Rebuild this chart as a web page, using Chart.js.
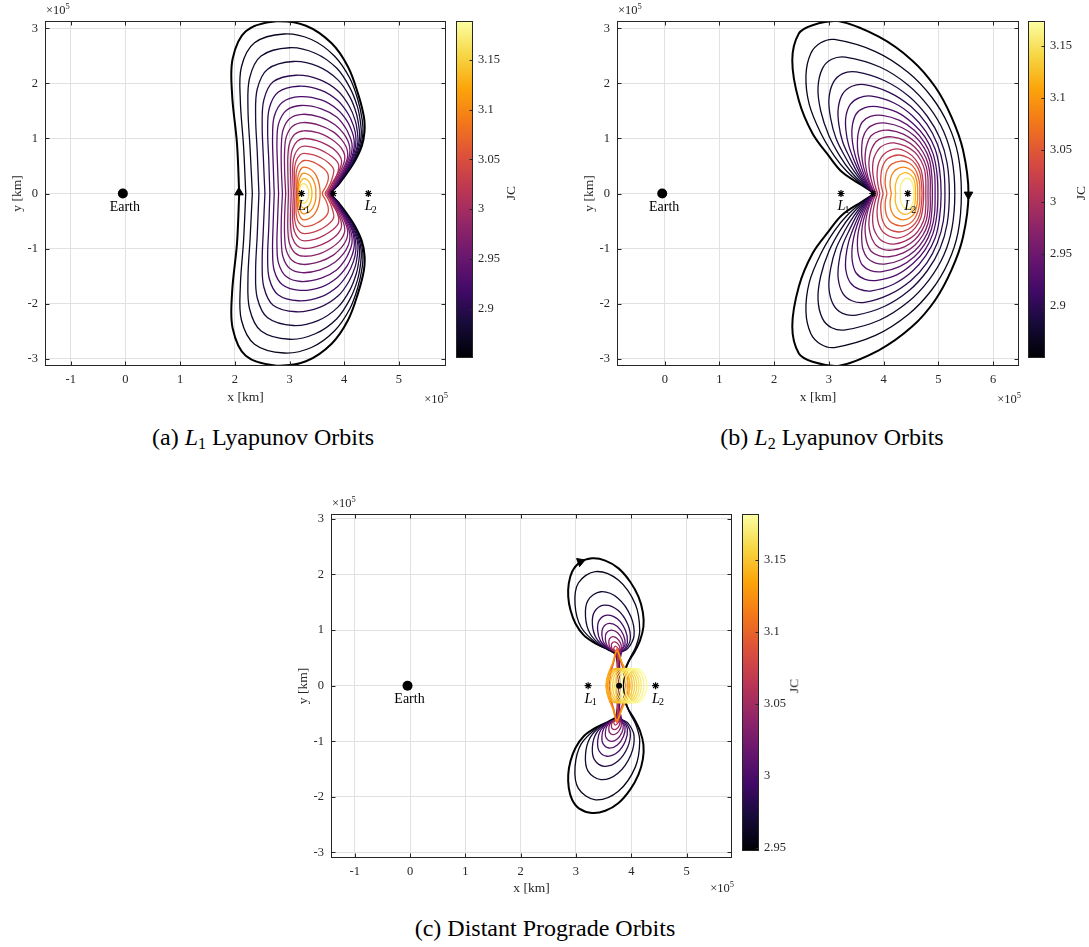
<!DOCTYPE html>
<html>
<head>
<meta charset="utf-8">
<title>Orbit families</title>
<script src="https://cdn.jsdelivr.net/npm/chart.js@4.4.1/dist/chart.umd.min.js"></script>
<style>
  html, body { margin: 0; padding: 0; background: #fff; }
  body { position: relative; width: 1089px; height: 947px; overflow: hidden;
         font-family: "Liberation Serif", "Times New Roman", serif; color: #262626; }
  canvas { position: absolute; }
  .t { position: absolute; white-space: nowrap; line-height: 1; }
  .c { transform: translate(-50%, -50%); }
  .r { transform: translateX(-100%); }
  .exp { font-size: 12.5px; }
  .exp sup { font-size: 8.5px; vertical-align: 5px; line-height: 0; }
  .cap { font-size: 24px; color: #000; }
  .cap sub { font-size: 16px; vertical-align: -4px; line-height: 0; }
  .jc { font-size: 13.5px; transform: translate(-50%, -50%) rotate(-90deg); }
</style>
</head>
<body>
<canvas id="mainA"></canvas>
<canvas id="barA"></canvas>
<canvas id="mainB"></canvas>
<canvas id="barB"></canvas>
<canvas id="mainC"></canvas>
<canvas id="barC"></canvas>

<div class="t exp" style="left:46px;top:4px">×10<sup>5</sup></div>
<div class="t exp r" style="left:448px;top:393px">×10<sup>5</sup></div>
<div class="t jc" style="left:511px;top:193px">JC</div>
<div class="t cap c" style="left:263px;top:437px">(a) <i>L</i><sub>1</sub> Lyapunov Orbits</div>

<div class="t exp" style="left:618px;top:4px">×10<sup>5</sup></div>
<div class="t exp r" style="left:1021px;top:393px">×10<sup>5</sup></div>
<div class="t jc" style="left:1081px;top:193px">JC</div>
<div class="t cap c" style="left:832px;top:437px">(b) <i>L</i><sub>2</sub> Lyapunov Orbits</div>

<div class="t exp" style="left:332px;top:497px">×10<sup>5</sup></div>
<div class="t exp r" style="left:734px;top:882px">×10<sup>5</sup></div>
<div class="t jc" style="left:794px;top:686px">JC</div>
<div class="t cap c" style="left:545px;top:928px">(c) Distant Prograde Orbits</div>

<script>
// ---------------- data (lengths in units of 1e5 km) ----------------
const xTicksA = [-1, 0, 1, 2, 3, 4, 5];
const xTicksB = [0, 1, 2, 3, 4, 5, 6];
const xTicksC = [-1, 0, 1, 2, 3, 4, 5];
const yTicks = [-3, -2, -1, 0, 1, 2, 3];

const cbTicksA = [2.9, 2.95, 3, 3.05, 3.1, 3.15];
const cbTicksB = [2.9, 2.95, 3, 3.05, 3.1, 3.15];
const cbTicksC = [2.95, 3, 3.05, 3.1, 3.15];
const cbRangeA = [2.851, 3.189];
const cbRangeB = [2.85, 3.174];
const cbRangeC = [2.948, 3.182];

const earthX = -0.047, moonX = 3.80, l1X = 3.22, l2X = 4.44;

// L1 Lyapunov family: Jacobi constant and upper half of each orbit (x,y pairs),
// lower half is the mirror image about y = 0
const l1JC = [2.855, 2.866, 2.877, 2.888, 2.9, 2.912, 2.925, 2.938, 2.952, 2.966,
              2.98, 2.995, 3.01, 3.03, 3.05, 3.075, 3.1, 3.13, 3.165];
const l1Half = [
  [2.08,0, 2.04,0.9, 1.95,1.8, 1.96,2.45, 2.2,2.95, 2.76,3.13, 3.3,3.05, 3.77,2.73, 4.07,2.3, 4.25,1.82, 4.36,1.39, 4.37,1.12, 4.32,0.86, 4.2,0.6, 4.05,0.37, 3.9,0.17, 3.77,0],
  [2.2,0, 2.16,0.85, 2.1,1.7, 2.12,2.3, 2.36,2.74, 2.9,2.9, 3.4,2.8, 3.82,2.5, 4.1,2.1, 4.25,1.7, 4.33,1.33, 4.34,1.08, 4.29,0.83, 4.18,0.58, 4.03,0.36, 3.89,0.16, 3.765,0],
  [2.32,0, 2.28,0.8, 2.24,1.55, 2.27,2.1, 2.48,2.5, 3.0,2.65, 3.47,2.55, 3.86,2.28, 4.1,1.93, 4.24,1.58, 4.3,1.27, 4.31,1.04, 4.26,0.8, 4.16,0.56, 4.02,0.35, 3.88,0.16, 3.76,0],
  [2.44,0, 2.41,0.75, 2.38,1.4, 2.41,1.9, 2.6,2.26, 3.07,2.4, 3.52,2.31, 3.88,2.07, 4.1,1.76, 4.22,1.46, 4.27,1.2, 4.28,0.99, 4.23,0.77, 4.14,0.54, 4.0,0.34, 3.87,0.16, 3.755,0],
  [2.55,0, 2.52,0.68, 2.5,1.26, 2.53,1.7, 2.7,2.03, 3.12,2.15, 3.55,2.07, 3.89,1.86, 4.09,1.59, 4.2,1.33, 4.24,1.12, 4.25,0.94, 4.2,0.73, 4.11,0.52, 3.98,0.33, 3.86,0.15, 3.75,0],
  [2.64,0, 2.62,0.62, 2.6,1.15, 2.63,1.55, 2.79,1.84, 3.16,1.95, 3.57,1.88, 3.88,1.69, 4.07,1.45, 4.17,1.23, 4.21,1.05, 4.21,0.89, 4.17,0.7, 4.08,0.5, 3.96,0.32, 3.85,0.15, 3.745,0],
  [2.72,0, 2.7,0.57, 2.69,1.04, 2.72,1.4, 2.87,1.66, 3.19,1.76, 3.58,1.7, 3.87,1.53, 4.05,1.32, 4.14,1.13, 4.18,0.98, 4.18,0.84, 4.14,0.66, 4.05,0.47, 3.94,0.3, 3.84,0.14, 3.74,0],
  [2.8,0, 2.78,0.52, 2.77,0.95, 2.8,1.27, 2.94,1.51, 3.21,1.6, 3.58,1.54, 3.86,1.39, 4.02,1.2, 4.1,1.04, 4.14,0.91, 4.14,0.78, 4.1,0.62, 4.02,0.45, 3.92,0.29, 3.83,0.14, 3.735,0],
  [2.87,0, 2.85,0.47, 2.85,0.86, 2.88,1.15, 3.0,1.36, 3.23,1.44, 3.56,1.39, 3.83,1.25, 3.99,1.09, 4.07,0.95, 4.1,0.84, 4.1,0.72, 4.06,0.58, 3.99,0.42, 3.9,0.27, 3.81,0.13, 3.73,0],
  [2.93,0, 2.91,0.42, 2.91,0.77, 2.94,1.03, 3.05,1.22, 3.25,1.29, 3.55,1.24, 3.8,1.12, 3.95,0.98, 4.03,0.86, 4.06,0.76, 4.06,0.66, 4.02,0.53, 3.95,0.39, 3.87,0.26, 3.79,0.12, 3.72,0],
  [2.98,0, 2.97,0.37, 2.97,0.68, 3.0,0.91, 3.1,1.08, 3.26,1.14, 3.53,1.1, 3.76,0.99, 3.91,0.87, 3.98,0.77, 4.01,0.68, 4.0,0.58, 3.96,0.47, 3.9,0.35, 3.83,0.23, 3.77,0.11, 3.71,0],
  [3.03,0, 3.02,0.33, 3.02,0.6, 3.05,0.8, 3.14,0.95, 3.27,1.0, 3.5,0.96, 3.71,0.87, 3.85,0.77, 3.92,0.68, 3.95,0.6, 3.94,0.5, 3.9,0.4, 3.84,0.29, 3.78,0.19, 3.74,0.09, 3.70,0],
  [3.07,0, 3.06,0.28, 3.06,0.52, 3.09,0.69, 3.17,0.82, 3.27,0.86, 3.47,0.83, 3.65,0.75, 3.79,0.66, 3.87,0.58, 3.9,0.51, 3.89,0.41, 3.85,0.3, 3.79,0.19, 3.73,0.09, 3.68,0],
  [3.1,0, 3.09,0.24, 3.09,0.44, 3.12,0.59, 3.19,0.7, 3.27,0.73, 3.44,0.7, 3.59,0.64, 3.71,0.56, 3.78,0.49, 3.81,0.42, 3.79,0.31, 3.75,0.19, 3.7,0.09, 3.65,0],
  [3.13,0, 3.12,0.2, 3.12,0.36, 3.15,0.49, 3.21,0.57, 3.27,0.6, 3.41,0.58, 3.53,0.52, 3.63,0.45, 3.69,0.38, 3.71,0.31, 3.7,0.22, 3.66,0.12, 3.6,0],
  [3.15,0, 3.14,0.16, 3.15,0.29, 3.18,0.39, 3.22,0.46, 3.27,0.48, 3.37,0.45, 3.46,0.37, 3.52,0.25, 3.55,0.12, 3.56,0],
  [3.17,0, 3.16,0.13, 3.17,0.23, 3.2,0.31, 3.23,0.36, 3.27,0.37, 3.35,0.34, 3.42,0.27, 3.46,0.18, 3.48,0.09, 3.48,0],
  [3.18,0, 3.175,0.1, 3.19,0.18, 3.22,0.24, 3.26,0.27, 3.32,0.25, 3.37,0.19, 3.4,0.1, 3.41,0],
  [3.19,0, 3.185,0.07, 3.2,0.13, 3.23,0.17, 3.26,0.18, 3.3,0.16, 3.33,0.11, 3.35,0.05, 3.35,0]
];

// L2 Lyapunov family
const l2JC = [2.855, 2.865, 2.875, 2.886, 2.897, 2.909, 2.921, 2.934, 2.947, 2.961,
              2.976, 2.992, 3.01, 3.03, 3.055, 3.085, 3.12, 3.16];
const l2Half = [
  [3.84,0, 3.6,0.15, 3.24,0.39, 3.0,0.68, 2.7,1.09, 2.45,1.69, 2.33,2.42, 2.45,2.91, 2.7,3.06, 3.15,3.14, 3.91,2.85, 4.52,2.42, 4.94,1.94, 5.24,1.39, 5.45,0.79, 5.55,0],
  [3.83,0, 3.62,0.15, 3.33,0.4, 3.1,0.68, 2.85,1.1, 2.64,1.62, 2.58,2.15, 2.67,2.55, 2.85,2.74, 3.1,2.8, 3.85,2.58, 4.45,2.2, 4.88,1.75, 5.18,1.25, 5.36,0.7, 5.42,0],
  [3.82,0, 3.64,0.15, 3.4,0.4, 3.2,0.68, 3.0,1.05, 2.85,1.5, 2.8,1.92, 2.88,2.27, 3.05,2.44, 3.3,2.48, 3.93,2.3, 4.45,1.97, 4.83,1.57, 5.1,1.12, 5.25,0.62, 5.3,0],
  [3.81,0, 3.66,0.15, 3.46,0.4, 3.3,0.66, 3.13,1.0, 3.03,1.37, 3.0,1.72, 3.08,2.02, 3.25,2.18, 3.5,2.21, 4.02,2.05, 4.47,1.76, 4.8,1.4, 5.03,1.0, 5.16,0.55, 5.2,0],
  [3.81,0, 3.68,0.15, 3.52,0.38, 3.39,0.63, 3.25,0.94, 3.18,1.26, 3.17,1.55, 3.25,1.81, 3.42,1.95, 3.65,1.98, 4.1,1.84, 4.5,1.58, 4.79,1.26, 4.98,0.9, 5.09,0.5, 5.12,0],
  [3.81,0, 3.7,0.15, 3.57,0.36, 3.46,0.6, 3.36,0.88, 3.31,1.15, 3.31,1.4, 3.39,1.62, 3.55,1.74, 3.78,1.77, 4.18,1.65, 4.52,1.42, 4.77,1.13, 4.94,0.81, 5.02,0.45, 5.05,0],
  [3.81,0, 3.72,0.14, 3.61,0.34, 3.52,0.56, 3.45,0.81, 3.42,1.04, 3.43,1.25, 3.5,1.45, 3.66,1.56, 3.88,1.58, 4.24,1.48, 4.54,1.27, 4.76,1.02, 4.9,0.73, 4.97,0.4, 4.99,0],
  [3.82,0, 3.74,0.13, 3.65,0.32, 3.58,0.52, 3.53,0.74, 3.52,0.94, 3.54,1.12, 3.61,1.3, 3.76,1.4, 3.97,1.42, 4.29,1.33, 4.56,1.15, 4.75,0.92, 4.87,0.66, 4.93,0.36, 4.94,0],
  [3.83,0, 3.76,0.13, 3.69,0.3, 3.63,0.49, 3.6,0.68, 3.6,0.85, 3.62,1.01, 3.7,1.17, 3.84,1.26, 4.04,1.28, 4.33,1.2, 4.57,1.04, 4.74,0.83, 4.84,0.6, 4.88,0.32, 4.89,0],
  [3.84,0, 3.78,0.12, 3.72,0.28, 3.68,0.45, 3.66,0.62, 3.67,0.78, 3.7,0.91, 3.77,1.05, 3.91,1.13, 4.1,1.15, 4.36,1.08, 4.57,0.94, 4.72,0.75, 4.81,0.54, 4.85,0.29, 4.85,0],
  [3.86,0, 3.81,0.12, 3.77,0.26, 3.74,0.42, 3.73,0.57, 3.75,0.71, 3.79,0.83, 3.86,0.94, 3.98,1.01, 4.15,1.03, 4.38,0.97, 4.57,0.84, 4.7,0.67, 4.78,0.48, 4.81,0.26, 4.81,0],
  [3.89,0, 3.85,0.12, 3.82,0.25, 3.8,0.39, 3.8,0.52, 3.82,0.64, 3.87,0.75, 3.94,0.84, 4.05,0.9, 4.19,0.92, 4.4,0.86, 4.57,0.75, 4.68,0.6, 4.75,0.42, 4.77,0.22, 4.77,0],
  [3.93,0, 3.89,0.2, 3.88,0.38, 3.91,0.56, 4.01,0.72, 4.23,0.81, 4.43,0.75, 4.58,0.62, 4.68,0.44, 4.72,0.22, 4.73,0],
  [3.99,0, 3.95,0.18, 3.95,0.33, 3.98,0.49, 4.07,0.63, 4.27,0.7, 4.45,0.65, 4.58,0.54, 4.66,0.38, 4.69,0.19, 4.7,0],
  [4.06,0, 4.03,0.15, 4.03,0.28, 4.06,0.42, 4.14,0.53, 4.31,0.59, 4.47,0.55, 4.57,0.45, 4.63,0.31, 4.66,0.15, 4.66,0],
  [4.14,0, 4.12,0.12, 4.12,0.23, 4.15,0.34, 4.22,0.43, 4.35,0.48, 4.48,0.44, 4.56,0.36, 4.6,0.25, 4.62,0.12, 4.62,0],
  [4.22,0, 4.21,0.1, 4.22,0.18, 4.25,0.27, 4.3,0.34, 4.39,0.38, 4.48,0.35, 4.54,0.28, 4.57,0.19, 4.58,0.09, 4.58,0],
  [4.31,0, 4.3,0.07, 4.31,0.14, 4.34,0.21, 4.38,0.26, 4.42,0.28, 4.48,0.26, 4.52,0.2, 4.54,0.13, 4.55,0.06, 4.55,0]
];

// Distant prograde family: two-lobed orbits, then the near-Moon loops
const dpoJC = [2.95, 2.958, 2.968, 2.98, 2.993, 3.005, 3.018, 3.03, 3.045, 3.062,
               3.09, 3.11, 3.13,
               3.14, 3.145, 3.15, 3.155, 3.16, 3.165, 3.17, 3.175, 3.18];
const dpoHalf = [
  [3.76,0, 3.76,0.3, 3.72,0.56, 3.59,0.645, 3.35,0.76, 3.14,0.91, 2.99,1.12, 2.9,1.36, 2.86,1.6, 2.87,1.84, 2.93,2.05, 3.06,2.21, 3.29,2.29, 3.53,2.25, 3.77,2.11, 3.98,1.87, 4.13,1.6, 4.21,1.32, 4.22,1.06, 4.16,0.82, 4.06,0.61, 3.95,0.43, 3.89,0.28, 3.86,0],
  [3.76,0, 3.76,0.3, 3.72,0.56, 3.61,0.64, 3.405,0.738, 3.095,1.047, 2.983,1.46, 3.043,1.847, 3.353,2.053, 3.766,1.899, 4.075,1.46, 4.153,0.996, 4.09,0.72, 3.97,0.48, 3.9,0.28, 3.87,0],
  [3.77,0, 3.77,0.3, 3.74,0.6, 3.488,0.703, 3.256,0.935, 3.172,1.245, 3.218,1.535, 3.45,1.69, 3.759,1.574, 3.992,1.245, 4.05,0.897, 3.934,0.665, 3.8,0.58, 3.79,0.3, 3.79,0],
  [3.77,0, 3.77,0.3, 3.74,0.6, 3.544,0.68, 3.363,0.862, 3.297,1.103, 3.333,1.329, 3.514,1.45, 3.755,1.36, 3.936,1.103, 3.981,0.831, 3.891,0.65, 3.79,0.59, 3.78,0.3, 3.78,0],
  [3.77,0, 3.77,0.3, 3.74,0.6, 3.586,0.663, 3.443,0.806, 3.392,0.996, 3.419,1.174, 3.562,1.269, 3.752,1.198, 3.894,0.996, 3.93,0.782, 3.859,0.64, 3.78,0.59, 3.78,0.3, 3.78,0],
  [3.77,0, 3.77,0.3, 3.74,0.6, 3.62,0.649, 3.509,0.76, 3.469,0.908, 3.491,1.047, 3.601,1.121, 3.749,1.065, 3.86,0.908, 3.888,0.742, 3.832,0.631, 3.77,0.3, 3.77,0],
  [3.76,0, 3.76,0.3, 3.74,0.6, 3.648,0.638, 3.562,0.723, 3.531,0.837, 3.548,0.944, 3.633,1.0, 3.747,0.958, 3.832,0.837, 3.854,0.709, 3.811,0.624, 3.76,0.3, 3.76,0],
  [3.76,0, 3.76,0.3, 3.74,0.6, 3.675,0.627, 3.616,0.686, 3.594,0.766, 3.606,0.841, 3.665,0.881, 3.745,0.851, 3.805,0.766, 3.82,0.676, 3.79,0.617, 3.76,0.3, 3.76,0],
  [3.75,0, 3.75,0.3, 3.74,0.6, 3.696,0.618, 3.656,0.658, 3.641,0.712, 3.649,0.762, 3.69,0.789, 3.743,0.769, 3.784,0.712, 3.794,0.652, 3.774,0.611, 3.75,0.3, 3.75,0],
  [3.75,0, 3.75,0.3, 3.74,0.6, 3.691,0.634, 3.683,0.665, 3.711,0.71, 3.765,0.665, 3.771,0.63, 3.75,0.3, 3.75,0],
  [3.6,0, 3.63,0.22, 3.69,0.45, 3.74,0.66, 3.8,0.45, 3.88,0.22, 3.9,0],
  [3.57,0, 3.61,0.22, 3.68,0.44, 3.74,0.66, 3.82,0.44, 3.91,0.22, 3.94,0],
  [3.55,0, 3.58,0.2, 3.66,0.4, 3.74,0.62, 3.84,0.4, 3.94,0.2, 3.97,0],
  [3.54,0, 3.566,0.155, 3.64,0.27, 3.74,0.31, 3.84,0.27, 3.914,0.155, 3.94,0],
  [3.58,0, 3.606,0.155, 3.68,0.27, 3.78,0.31, 3.88,0.27, 3.954,0.155, 3.98,0],
  [3.62,0, 3.646,0.155, 3.72,0.27, 3.82,0.31, 3.92,0.27, 3.994,0.155, 4.02,0],
  [3.66,0, 3.686,0.155, 3.76,0.27, 3.86,0.31, 3.96,0.27, 4.034,0.155, 4.06,0],
  [3.7,0, 3.726,0.155, 3.8,0.27, 3.9,0.31, 4.0,0.27, 4.074,0.155, 4.1,0],
  [3.74,0, 3.766,0.155, 3.84,0.27, 3.94,0.31, 4.04,0.27, 4.114,0.155, 4.14,0],
  [3.78,0, 3.806,0.155, 3.88,0.27, 3.98,0.31, 4.08,0.27, 4.154,0.155, 4.18,0],
  [3.83,0, 3.856,0.155, 3.93,0.27, 4.03,0.31, 4.13,0.27, 4.204,0.155, 4.23,0],
  [3.88,0, 3.906,0.155, 3.98,0.27, 4.08,0.31, 4.18,0.27, 4.254,0.155, 4.28,0]
];

// direction arrows on the outer orbit: [x, y, heading in degrees]
const arrowA = [2.075, 0.02, 0];
const arrowB = [5.55, -0.02, 180];
const arrowC = [3.08, 2.23, 70];

// ---------------- drawing ----------------
const axisColor = '#262626';
const gridColor = '#e1e1e1';
const serif = '"Liberation Serif", "Times New Roman", serif';
const tickFont = { family: serif, size: 12.5 };
const titleFont = { family: serif, size: 13.5 };

const inferno = ['#000004', '#160b39', '#420a68', '#6a176e', '#932667', '#bc3754',
                 '#dd513a', '#f37819', '#fca50a', '#f6d746', '#fcffa4'];

function hexRgb(h) {
  return [parseInt(h.substr(1, 2), 16), parseInt(h.substr(3, 2), 16), parseInt(h.substr(5, 2), 16)];
}

function infernoAt(t) {
  t = Math.max(0, Math.min(1, t));
  const p = t * 10, i = Math.min(9, Math.floor(p)), f = p - i;
  const a = hexRgb(inferno[i]), b = hexRgb(inferno[i + 1]);
  const c = a.map((v, k) => Math.round(v + (b[k] - v) * f));
  return `rgb(${c[0]}, ${c[1]}, ${c[2]})`;
}

// closed orbit from its upper half plus the mirror image
function loop(half) {
  const pts = [];
  for (let i = 0; i < half.length; i += 2) pts.push({ x: half[i], y: half[i + 1] });
  for (let i = half.length - 4; i >= 0; i -= 2) pts.push({ x: half[i], y: -half[i + 1] });
  return pts;
}

function orbitSets(halves, jcs, range) {
  return halves.map((h, i) => ({
    data: loop(h),
    showLine: true,
    pointRadius: 0,
    tension: 0.35,
    fill: false,
    borderColor: i === 0 ? '#000' : infernoAt((jcs[i] - range[0]) / (range[1] - range[0])),
    borderWidth: i === 0 ? 2 : 1.3,
    order: 100 - i
  }));
}

function markerSets(arrow, moonStyle) {
  return [
    { data: [{ x: earthX, y: 0 }], pointRadius: 5, pointBackgroundColor: '#000', pointBorderWidth: 0, order: 0 },
    { data: [{ x: l1X, y: 0 }, { x: l2X, y: 0 }], pointStyle: 'star', pointRadius: 3.5,
      pointBorderColor: '#000', pointBorderWidth: 1.2, order: 0 },
    moonStyle === 'dot'
      ? { data: [{ x: moonX - 0.02, y: 0 }], pointRadius: 3, pointBackgroundColor: '#000', pointBorderWidth: 0, order: 0 }
      : { data: [{ x: moonX, y: 0 }], pointStyle: 'star', pointRadius: 3.5, pointBorderColor: '#000', pointBorderWidth: 1.2, order: 0 },
    { data: [{ x: arrow[0], y: arrow[1] }], pointStyle: 'triangle', pointRotation: arrow[2], pointRadius: 5,
      pointBackgroundColor: '#000', pointBorderColor: '#000', pointBorderWidth: 1, order: 0 }
  ];
}

// box around the axes with MATLAB-style inward ticks
const frame = {
  id: 'frame',
  afterDraw(chart, args, opts) {
    const { ctx, chartArea: a } = chart;
    const L = Math.round(a.left) + 0.5, R = Math.round(a.right) - 0.5;
    const T = Math.round(a.top) + 0.5, B = Math.round(a.bottom) - 0.5;
    ctx.save();
    ctx.strokeStyle = axisColor;
    ctx.lineWidth = 1;
    ctx.beginPath();
    if (opts.bar) {
      const ys = chart.scales.y, n = 3;
      ys.ticks.forEach(t => {
        const y = Math.round(ys.getPixelForValue(t.value)) + 0.5;
        ctx.moveTo(R, y); ctx.lineTo(R - n, y);
      });
    } else {
      const xs = chart.scales.x, ys = chart.scales.y, n = 4;
      xs.ticks.forEach(t => {
        const x = Math.round(xs.getPixelForValue(t.value)) + 0.5;
        ctx.moveTo(x, B); ctx.lineTo(x, B - n);
        ctx.moveTo(x, T); ctx.lineTo(x, T + n);
      });
      ys.ticks.forEach(t => {
        const y = Math.round(ys.getPixelForValue(t.value)) + 0.5;
        ctx.moveTo(L, y); ctx.lineTo(L + n, y);
        ctx.moveTo(R, y); ctx.lineTo(R - n, y);
      });
    }
    ctx.stroke();
    ctx.strokeRect(L, T, R - L, B - T);
    ctx.restore();
  }
};

// text labels tied to data positions
const marks = {
  id: 'marks',
  afterDatasetsDraw(chart, args, opts) {
    const { ctx } = chart, xs = chart.scales.x, ys = chart.scales.y;
    ctx.save();
    ctx.fillStyle = '#000';
    ctx.textBaseline = 'middle';
    (opts.items || []).forEach(it => {
      const px = xs.getPixelForValue(it.x) + (it.dx || 0);
      const py = ys.getPixelForValue(it.y) + (it.dy || 0);
      if (it.sub) {
        const big = `italic 14.5px ${serif}`, small = `10px ${serif}`;
        ctx.font = big; const w1 = ctx.measureText(it.text).width;
        ctx.font = small; const w2 = ctx.measureText(it.sub).width;
        const x0 = px - (w1 + w2) / 2;
        ctx.textAlign = 'left';
        ctx.font = big; ctx.fillText(it.text, x0, py);
        ctx.font = small; ctx.fillText(it.sub, x0 + w1 - 1, py + 4);
      } else {
        ctx.textAlign = 'center';
        ctx.font = `14px ${serif}`;
        ctx.fillText(it.text, px, py);
      }
    });
    ctx.restore();
  }
};

function place(cv, g) {
  cv.width = g.cw; cv.height = g.ch;
  cv.style.left = g.cl + 'px'; cv.style.top = g.ct + 'px';
  cv.style.width = g.cw + 'px'; cv.style.height = g.ch + 'px';
}

function makeMain(id, g, xr, yr, xt, datasets, items) {
  const cv = document.getElementById(id);
  place(cv, g);
  return new Chart(cv, {
    type: 'scatter',
    data: { datasets },
    options: {
      responsive: false, animation: false, events: [],
      layout: { padding: { left: 0, top: g.T - g.ct, right: g.cl + g.cw - g.R, bottom: 0 } },
      plugins: { legend: { display: false }, tooltip: { enabled: false }, frame: {}, marks: { items } },
      scales: {
        x: {
          type: 'linear', min: xr[0], max: xr[1],
          afterBuildTicks: s => { s.ticks = xt.map(v => ({ value: v })); },
          afterFit: s => { s.height = g.ct + g.ch - g.B; },
          grid: { color: gridColor, lineWidth: 1, drawTicks: false },
          border: { display: false },
          ticks: { padding: 6, color: axisColor, font: tickFont, autoSkip: false, maxRotation: 0, callback: v => String(v) },
          title: { display: true, text: 'x [km]', color: axisColor, font: titleFont, padding: { top: 0, bottom: 6 } }
        },
        y: {
          type: 'linear', min: yr[0], max: yr[1],
          afterBuildTicks: s => { s.ticks = yTicks.map(v => ({ value: v })); },
          afterFit: s => { s.width = g.L - g.cl; },
          grid: { color: gridColor, lineWidth: 1, drawTicks: false },
          border: { display: false },
          ticks: { padding: 7, color: axisColor, font: tickFont, autoSkip: false, callback: v => String(v) },
          title: { display: true, text: 'y [km]', color: axisColor, font: titleFont, padding: { top: 9, bottom: 0 } }
        }
      }
    },
    plugins: [frame, marks]
  });
}

function gradient(chart) {
  const a = chart.chartArea;
  if (!a) return '#000';
  const gr = chart.ctx.createLinearGradient(0, a.bottom, 0, a.top);
  inferno.forEach((c, i) => gr.addColorStop(i / 10, c));
  return gr;
}

function makeBar(id, g, range, ticks) {
  const cv = document.getElementById(id);
  place(cv, g);
  return new Chart(cv, {
    type: 'bar',
    data: {
      labels: ['JC'],
      datasets: [{ data: [[range[0], range[1]]], backgroundColor: c => gradient(c.chart), borderWidth: 0,
                   barPercentage: 1, categoryPercentage: 1 }]
    },
    options: {
      responsive: false, animation: false, events: [],
      layout: { padding: { left: 0, right: 0, top: g.T - g.ct, bottom: g.ct + g.ch - g.B } },
      plugins: { legend: { display: false }, tooltip: { enabled: false }, frame: { bar: true } },
      scales: {
        x: { display: false },
        y: {
          position: 'right', min: range[0], max: range[1],
          afterBuildTicks: s => { s.ticks = ticks.map(v => ({ value: v })); },
          afterFit: s => { s.width = g.cl + g.cw - g.R; },
          grid: { display: false, drawTicks: false },
          border: { display: false },
          ticks: { padding: 5, color: axisColor, font: tickFont, autoSkip: false, callback: v => String(v) }
        }
      }
    },
    plugins: [frame]
  });
}

const labelsCommon = [
  { x: earthX, y: 0, dx: 2, dy: 14, text: 'Earth' },
  { x: l1X, y: 0, dx: 3, dy: 13, text: 'L', sub: '1' },
  { x: l2X, y: 0, dx: 3, dy: 13, text: 'L', sub: '2' }
];

makeMain('mainA', { cl: 0, ct: 0, cw: 452, ch: 412, L: 45, R: 448, T: 21, B: 366 },
  [-1.47, 5.86], [-3.136, 3.136], xTicksA,
  markerSets(arrowA, 'star').concat(orbitSets(l1Half, l1JC, cbRangeA)), labelsCommon);
makeBar('barA', { cl: 456, ct: 0, cw: 62, ch: 370, L: 456, R: 473, T: 21, B: 366 }, cbRangeA, cbTicksA);

makeMain('mainB', { cl: 572, ct: 0, cw: 453, ch: 412, L: 617, R: 1021, T: 21, B: 366 },
  [-0.873, 6.473], [-3.136, 3.136], xTicksB,
  markerSets(arrowB, 'star').concat(orbitSets(l2Half, l2JC, cbRangeB)), labelsCommon);
makeBar('barB', { cl: 1028, ct: 0, cw: 61, ch: 370, L: 1028, R: 1045, T: 21, B: 366 }, cbRangeB, cbTicksB);

makeMain('mainC', { cl: 286, ct: 493, cw: 452, ch: 410, L: 331, R: 734, T: 514, B: 858 },
  [-1.431, 5.822], [-3.099, 3.088], xTicksC,
  markerSets(arrowC, 'dot').concat(orbitSets(dpoHalf, dpoJC, cbRangeC)), labelsCommon);
makeBar('barC', { cl: 742, ct: 493, cw: 50, ch: 370, L: 742, R: 759, T: 514, B: 858 }, cbRangeC, cbTicksC);
</script>
</body>
</html>
